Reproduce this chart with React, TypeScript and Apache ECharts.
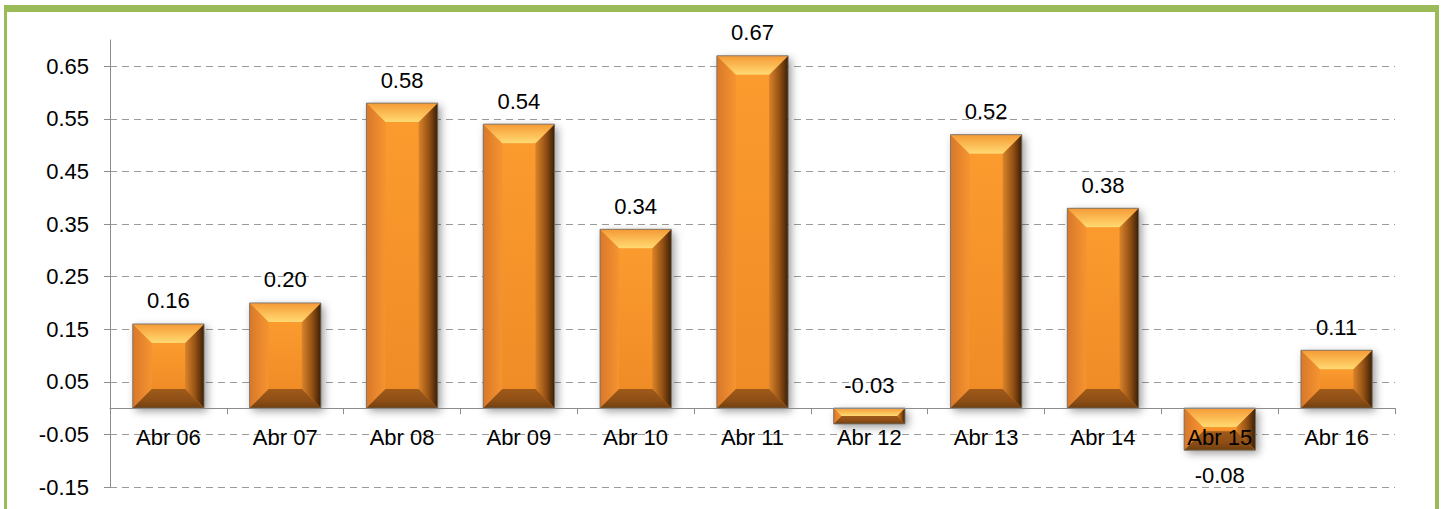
import React, { useEffect, useRef } from "react";
import * as echarts from "echarts";

const categories = ["Abr 06", "Abr 07", "Abr 08", "Abr 09", "Abr 10", "Abr 11", "Abr 12", "Abr 13", "Abr 14", "Abr 15", "Abr 16"];
const values = [0.16, 0.2, 0.58, 0.54, 0.34, 0.67, -0.03, 0.52, 0.38, -0.08, 0.11];
const yTicks = [-0.15, -0.05, 0.05, 0.15, 0.25, 0.35, 0.45, 0.55, 0.65];
const yMin = -0.15;
const yMax = 0.7;

const FONT = '"Liberation Sans", Arial, sans-serif';
const GRID = { left: 110, right: 48, top: 40, bottom: 22 };
const CHART_H = 509;
const lg = (x2: number, y2: number, stops: [number, string][]) =>
  new echarts.graphic.LinearGradient(0, 0, x2, y2, stops.map(([offset, color]) => ({ offset, color })));

export default function App() {
  const ref = useRef<HTMLDivElement>(null);
  useEffect(() => {
    if (!ref.current) return;
    const chart = echarts.init(ref.current, undefined, { renderer: "svg" });
    const gridH = CHART_H - GRID.top - GRID.bottom;
    const zeroOffset = -((0 - yMin) / (yMax - yMin)) * gridH;
    const option: any = {
      animation: false,
      backgroundColor: "#ffffff",
      grid: { ...GRID, containLabel: false, outerBoundsMode: "none" },
      graphic: [
        { type: "rect", shape: { x: 4, y: 5, width: 1435, height: 7 }, style: { fill: "#9BBB59" }, z: 100 },
        { type: "rect", shape: { x: 4, y: 5, width: 3, height: 510 }, style: { fill: "#9BBB59" }, z: 100 },
        { type: "rect", shape: { x: 1435, y: 5, width: 4, height: 510 }, style: { fill: "#9BBB59" }, z: 100 },
      ],
      xAxis: {
        type: "category",
        data: categories,
        z: 10,
        offset: zeroOffset,
        axisLine: { show: true, onZero: false, lineStyle: { color: "#8c8c8c", width: 1 } },
        axisTick: { show: true, length: 6, alignWithLabel: false, lineStyle: { color: "#8c8c8c" } },
        axisLabel: { interval: 0, color: "#000", fontSize: 22, fontFamily: FONT, margin: 18 },
        splitLine: { show: false },
      },
      yAxis: {
        type: "value",
        min: yMin,
        max: yMax,
        axisLine: { show: true, lineStyle: { color: "#8c8c8c", width: 1 } },
        axisTick: { show: true, length: 6, customValues: yTicks, lineStyle: { color: "#8c8c8c" } },
        axisLabel: {
          customValues: yTicks,
          color: "#000",
          fontSize: 22,
          fontFamily: FONT,
          margin: 21,
          formatter: (v: number) => v.toFixed(2),
        },
        splitLine: { show: true, lineStyle: { color: "#9a9a9a", width: 1.2, type: [7, 5] } },
      },
      series: [
        {
          type: "custom",
          data: values.map((v, i) => [i, v]),
          encode: { x: 0, y: 1 },
          z: 2,
          renderItem: (params: any, api: any) => {
            const idx = api.value(0);
            const v = api.value(1);
            const p0 = api.coord([idx, 0]);
            const p1 = api.coord([idx, v]);
            const bw = api.size([1, 0])[0] * 0.61;
            const x0 = p0[0] - bw / 2;
            const x1 = p0[0] + bw / 2;
            const yT = Math.min(p0[1], p1[1]);
            const yB = Math.max(p0[1], p1[1]);
            const h = yB - yT;
            const b = Math.min(19, h / 2, bw / 2);
            const below = v <= -0.05;
            const children: any[] = [
              {
                type: "rect",
                shape: { x: x0, y: yT, width: bw, height: h },
                style: {
                  fill: "#EE8A26",
                  shadowBlur: 8,
                  shadowOffsetX: 3,
                  shadowOffsetY: 3,
                  shadowColor: "rgba(0,0,0,0.4)",
                },
              },
              {
                type: "rect",
                shape: { x: x0 + b, y: yT + b, width: bw - 2 * b, height: Math.max(0, h - 2 * b) },
                style: { fill: lg(0, 1, [[0, "#FB9B2E"], [1, "#F08C26"]]) },
              },
              {
                type: "polygon",
                shape: { points: [[x0, yT], [x0 + b, yT + b], [x0 + b, yB - b], [x0, yB]] },
                style: { fill: lg(1, 0, [[0, "#D8782A"], [1, "#F69430"]]) },
              },
              {
                type: "polygon",
                shape: { points: [[x1, yT], [x1, yB], [x1 - b, yB - b], [x1 - b, yT + b]] },
                style: { fill: lg(1, 0, [[0, "#DA842A"], [0.55, "#935014"], [1, "#3A1F05"]]) },
              },
              {
                type: "polygon",
                shape: { points: [[x0, yT], [x1, yT], [x1 - b, yT + b], [x0 + b, yT + b]] },
                style: { fill: lg(0, 1, [[0, "#F59A36"], [0.65, "#FDC45C"], [1, "#FFDA74"]]) },
              },
              {
                type: "polygon",
                shape: { points: [[x0 + b, yB - b], [x1 - b, yB - b], [x1, yB], [x0, yB]] },
                style: { fill: lg(0, 1, [[0, "#A05A1A"], [0.6, "#8E4E16"], [1, "#70400F"]]) },
              },
              {
                type: "rect",
                shape: { x: x0, y: yT, width: bw, height: h },
                style: { fill: "none", stroke: "rgba(110,110,110,0.85)", lineWidth: 1 },
              },
              {
                type: "text",
                x: p0[0],
                y: below ? yB + 14 : yT - 12,
                style: {
                  text: v.toFixed(2),
                  fill: "#000",
                  fontSize: 22,
                  fontFamily: FONT,
                  align: "center",
                  verticalAlign: below ? "top" : "bottom",
                },
              },
            ];
            return { type: "group", children };
          },
        },
      ],
    };
    chart.setOption(option);
    return () => chart.dispose();
  }, []);
  return <div ref={ref} style={{ position: "absolute", left: 0, top: 0, width: 1443, height: 509 }} />;
}
